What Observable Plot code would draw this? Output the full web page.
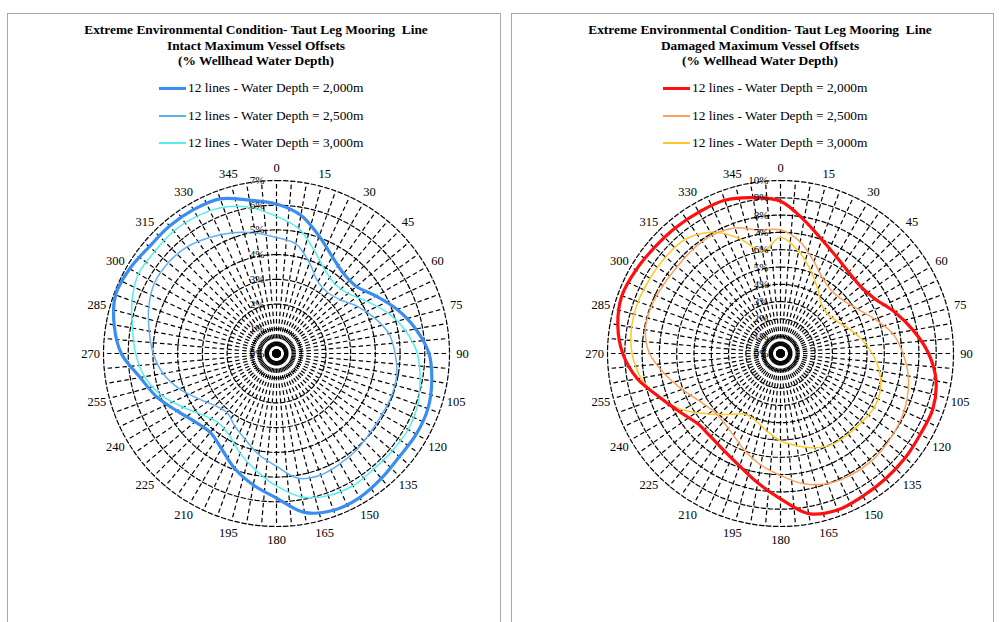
<!DOCTYPE html>
<html>
<head>
<meta charset="utf-8">
<script src="https://cdn.jsdelivr.net/npm/d3@7"></script>
<script src="https://cdn.jsdelivr.net/npm/@observablehq/plot@0.6"></script>
<style>
  html, body { margin: 0; padding: 0; background: #fff; }
  body { width: 999px; height: 622px; position: relative; overflow: hidden;
         font-family: "Liberation Serif", "Times New Roman", serif; color: #000; }
  .panel { position: absolute; top: 13px; height: 640px; border: 1.5px solid #a8a8a8; box-sizing: border-box; }
  .title { position: absolute; width: 440px; text-align: center; font-weight: bold; font-size: 13.4px; line-height: 15.5px; top: 22px; }
  .leg { position: absolute; font-size: 13.4px; line-height: 16px; white-space: nowrap; }
  .leg span.sw { position: absolute; left: 0; width: 27px; }
  .leg span.tx { position: absolute; left: 29px; top: -8px; }
  .chart { position: absolute; top: 153px; }
</style>
</head>
<body>
<div class="panel" style="left:7px;width:494px;"></div>
<div class="panel" style="left:511px;width:483px;"></div>
<div id="t1" class="title" style="left:36px;"></div>
<div id="t2" class="title" style="left:540px;"></div>
<div id="l1"></div>
<div id="l2"></div>
<div id="c1" class="chart" style="left:76px;"></div>
<div id="c2" class="chart" style="left:580px;"></div>
<script>
// ---- categories (wind/wave heading, degrees) ----
const angles = [0,10,20,30,40,50,60,70,80,90,100,110,120,130,140,150,160,170,
                180,190,200,210,220,230,240,250,260,270,280,290,300,310,320,330,340,350];
const angleLabels = [0,15,30,45,60,75,90,105,120,135,150,165,180,195,210,225,240,255,270,285,300,315,330,345];
const spokeAngles = [0,5,10,15,20,25,30,35,40,45,50,55,60,65,70,75,80,85,90,95,100,105,110,115,120,125,130,135,140,145,150,155,160,165,170,175,
                     180,185,190,195,200,205,210,215,220,225,230,235,240,245,250,255,260,265,270,275,280,285,290,295,300,305,310,315,320,325,330,335,340,345,350,355];

// ---- radial ticks (% of water depth) ----
const intactTicks = [0,1,2,3,4,5,6,7];
const damagedTicks = [0,1,2,3,4,5,6,7,8,9,10];

// ---- intact offsets (%) ----
const intact2000 = [6.05,5.68,5.05,4.52,4.22,4.22,4.65,5.2,5.72,6.17,6.38,6.52,6.53,6.49,6.6,6.73,6.75,6.53,
                    5.85,5.4,4.95,4.45,4.17,4.3,4.65,5.15,5.6,6.28,6.67,6.93,6.86,6.72,6.73,6.72,6.66,6.3];
const intact2500 = [4.69,4.5,3.9,3.35,3.22,3.38,3.8,4.22,4.62,4.8,4.94,4.96,4.93,4.96,5.07,5.15,5.23,5.13,
                    4.56,4.15,3.7,3.38,3.12,3.27,3.65,4.18,4.66,4.99,5.23,5.5,5.7,5.72,5.63,5.42,5.2,4.95];
const intact3000 = [5.55,5.14,4.45,3.91,3.67,3.78,4.22,4.8,5.3,5.7,5.9,6.08,6.15,6.12,6.11,6.18,6.12,5.9,
                    5.36,4.8,4.3,3.82,3.66,3.88,4.35,4.95,5.42,5.7,5.92,6.22,6.45,6.43,6.47,6.42,6.3,6.0];

// ---- damaged offsets (%) ----
const damaged2000 = [8.8,7.83,7.0,6.46,6.13,6.04,6.31,7.02,7.78,8.56,9.13,9.37,9.33,9.4,9.45,9.52,9.63,9.4,
                     8.4,7.59,6.92,6.5,6.28,6.28,6.74,7.42,8.4,9.12,9.55,9.76,9.65,9.52,9.47,9.44,9.43,9.15];
const damaged2500 = [7.15,6.55,5.65,4.95,4.67,4.75,5.15,5.8,6.6,7.08,7.5,7.78,7.95,8.06,8.14,8.12,8.0,7.65,
                     7.05,6.55,6.0,5.45,5.15,5.13,5.45,6.05,6.8,7.57,7.93,7.95,7.85,7.8,7.87,7.9,7.72,7.25];
const damaged3000 = [6.72,6.0,5.1,4.3,3.7,3.55,3.75,4.2,4.75,5.3,5.8,6.15,6.25,6.15,6.08,6.05,5.8,5.41,
                     5.05,4.55,4.14,4.05,4.6,5.43,6.52,7.43,8.18,8.58,8.74,8.76,8.7,8.67,8.6,8.1,7.1,6.0];

const seriesNames = ["12 lines - Water Depth = 2,000m","12 lines - Water Depth = 2,500m","12 lines - Water Depth = 3,000m"];
const intactColors = ["#3a8ef0","#62b0f4","#55eeee"];
const damagedColors = ["#ff1010","#ffa05c","#ffc829"];
const lineWidths = [3.2, 1.5, 1.5];
const swatchHeights = [3, 2, 2];

const intactTitle = ["Extreme Environmental Condition- Taut Leg Mooring\u00a0 Line","Intact Maximum Vessel Offsets","(% Wellhead Water Depth)"];
const damagedTitle = ["Extreme Environmental Condition- Taut Leg Mooring\u00a0 Line","Damaged Maximum Vessel Offsets","(% Wellhead Water Depth)"];

const FONT = "'Liberation Serif','Times New Roman',serif";
const rad = a => a * Math.PI / 180;

function title(id, lines) {
  document.getElementById(id).innerHTML = lines.join("<br>");
}
function legend(id, left, colors) {
  const el = document.getElementById(id);
  const tops = [88, 116, 143];
  seriesNames.forEach((n, i) => {
    const d = document.createElement("div");
    d.className = "leg";
    d.style.left = left + "px";
    d.style.top = tops[i] + "px";
    d.innerHTML = `<span class="sw" style="top:${-Math.floor(swatchHeights[i]/2)}px;height:${swatchHeights[i]}px;background:${colors[i]}"></span><span class="tx">${n}</span>`;
    el.appendChild(d);
  });
}

function radar(id, D, ticks, values, colors) {
  const R = 173, C = 200;
  const rings = [];
  ticks.filter(k => k > 0).forEach(k => {
    for (let a = 0; a <= 360; a += 2) rings.push({k, a});
  });
  const marks = [
    Plot.line(rings, {x: d => d.k * Math.sin(rad(d.a)), y: d => d.k * Math.cos(rad(d.a)), z: "k",
      stroke: "#000", strokeWidth: 1.2, strokeDasharray: "4.5,2.5"}),
    Plot.link(spokeAngles, {x1: 0, y1: 0, x2: a => D * Math.sin(rad(a)), y2: a => D * Math.cos(rad(a)),
      stroke: "#000", strokeWidth: 1.2, strokeDasharray: "4.5,3"})
  ];
  // draw thin series first, thick last
  [2, 1, 0].forEach(i => {
    const rows = angles.map((a, j) => ({a, v: values[i][j]}));
    marks.push(Plot.line(rows, {x: d => d.v * Math.sin(rad(d.a)), y: d => d.v * Math.cos(rad(d.a)),
      stroke: colors[i], strokeWidth: lineWidths[i], curve: "catmull-rom-closed"}));
  });
  const Dl = D * 186 / R;
  marks.push(Plot.text(angleLabels, {x: a => Dl * Math.sin(rad(a)), y: a => Dl * Math.cos(rad(a)),
    text: a => String(a), fontSize: 12.5, fill: "#000"}));
  marks.push(Plot.text(ticks, {x: 0, y: k => k, text: k => k + "%", textAnchor: "end", dx: -12, fontSize: 11, fill: "#000"}));
  const svg = Plot.plot({
    width: 400, height: 400, margin: 0,
    style: {fontFamily: FONT, background: "transparent", overflow: "visible"},
    x: {domain: [-D, D], range: [C - R, C + R], axis: null},
    y: {domain: [-D, D], range: [C + R, C - R], axis: null},
    marks
  });
  document.getElementById(id).appendChild(svg);
}

title("t1", intactTitle);
title("t2", damagedTitle);
legend("l1", 159, intactColors);
legend("l2", 663, damagedColors);
radar("c1", 7, intactTicks, [intact2000, intact2500, intact3000], intactColors);
radar("c2", 10, damagedTicks, [damaged2000, damaged2500, damaged3000], damagedColors);
</script>
</body>
</html>
